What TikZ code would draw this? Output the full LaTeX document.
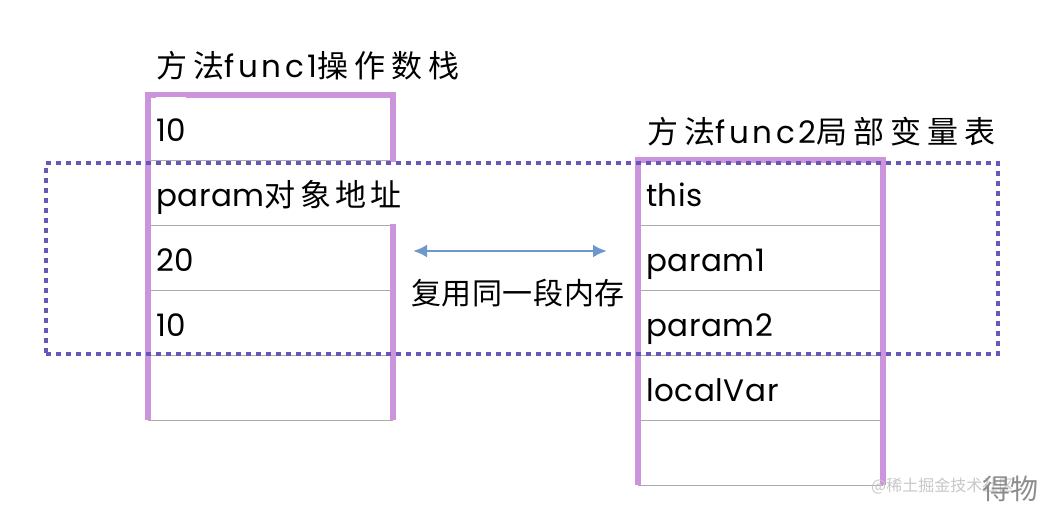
\documentclass[tikz,border=0pt]{standalone}
\usepackage{fontspec}
\setmainfont{Poppins}[LetterSpace=2]
\newfontfamily\titlelat[LetterSpace=12]{Poppins}
\newfontfamily\cjk[LetterSpace=14]{Noto Sans CJK SC}
\newfontfamily\cjktitle[LetterSpace=19]{Noto Sans CJK SC}
\newfontfamily\cjknarrow[LetterSpace=2]{Noto Sans CJK SC}
\newfontfamily\wmfont{Noto Sans CJK SC}
\usetikzlibrary{arrows.meta}
\definecolor{wallpurple}{HTML}{CB94DB}
\definecolor{sharedpurple}{HTML}{6A55B8}
\definecolor{reuseblue}{HTML}{6E98CC}
\definecolor{rowgray}{HTML}{ABABAB}

\begin{document}
\begin{tikzpicture}[
		x=1pt, y=-1pt,
			cell/.style = {
				minimum width = 245pt,
				minimum height = 65pt,
				inner sep = 0pt
			},
			celltext/.style = {
				anchor = west,
				fill = white,
				inner sep = 0pt,
				minimum height = 62pt,
				text height = 31pt,
				text depth = 3pt,
				font = \fontsize{31}{36}\selectfont
			},
			title/.style = {
				anchor = west,
				inner sep = 0pt,
				font = \fontsize{31}{36}\selectfont\titlelat
			},
			rowline/.style = {
				draw = rowgray,
				line width = 1.4pt
			},
			wall/.style = {
				draw = wallpurple,
				line width = 6.5pt,
				line join = miter
			},
			shared/.style = {
				draw = sharedpurple,
				line width = 4.5pt,
				dash pattern = on 5pt off 5pt,
				minimum width = 952pt,
				minimum height = 191pt,
				inner sep = 0pt
			},
			reusearrow/.style = {
				draw = reuseblue,
				line width = 2.8pt,
				{Latex[length=14pt,width=13pt]}-{Latex[length=14pt,width=13pt]}
			}
		]
		\useasboundingbox (0,0) rectangle (1048,512);
		% operand stack of func1
		\node[title] (title1) at (156,66) {{\cjktitle 方法}func1{\cjktitle 操作数栈}};
		\foreach \i in {1,...,5} {
			\node[cell] (L\i) at (270.5,127.5+65*\i-65) {};
			\draw[rowline] (L\i.south west) -- (L\i.south east);
		}
		\draw[wall] (L5.south west) -- (L1.north west) -- (L1.north east) -- (L5.south east);
		\foreach \txt [count=\i] in {10, param{\cjk 对象地址}, 20, 10}
			\node[celltext] (Lt\i) at ([xshift=8pt]L\i.west) {\txt};
		% local variables of func2
		\node[title] (title2) at (647,132) {{\cjktitle 方法}func2{\cjktitle 局部变量表}};
		\foreach \i in {1,...,5} {
			\node[cell] (R\i) at (760.5,192.5+65*\i-65) {};
			\draw[rowline] (R\i.south west) -- (R\i.south east);
		}
		\draw[wall] (R5.south west) -- (R1.north west) -- (R1.north east) -- (R5.south east);
		\foreach \txt [count=\i] in {this, param1, param2, localVar}
			\node[celltext] (Rt\i) at ([xshift=8pt]R\i.west) {\txt};
		% shared slots
		\node[shared] (shared) at (522,258.5) {};
		\coordinate (reuseL) at (413,251);
		\coordinate (reuseR) at (607,251);
		\draw[reusearrow] (reuseL) -- (reuseR);
		\node[font=\fontsize{30}{35}\selectfont\cjknarrow, inner sep=0pt] (reuse) at (518,293) {复用同一段内存};
		% watermark
		\node[font=\fontsize{16}{20}\selectfont\wmfont, text=black!22, anchor=west, inner sep=0pt] (wmark) at (871,486) {@稀土掘金技术社区};
		\node[font=\fontsize{28}{32}\selectfont\wmfont, text=black!45, anchor=west, inner sep=0pt] (wlogo) at (982,489) {得物};
	\end{tikzpicture}
\end{document}
